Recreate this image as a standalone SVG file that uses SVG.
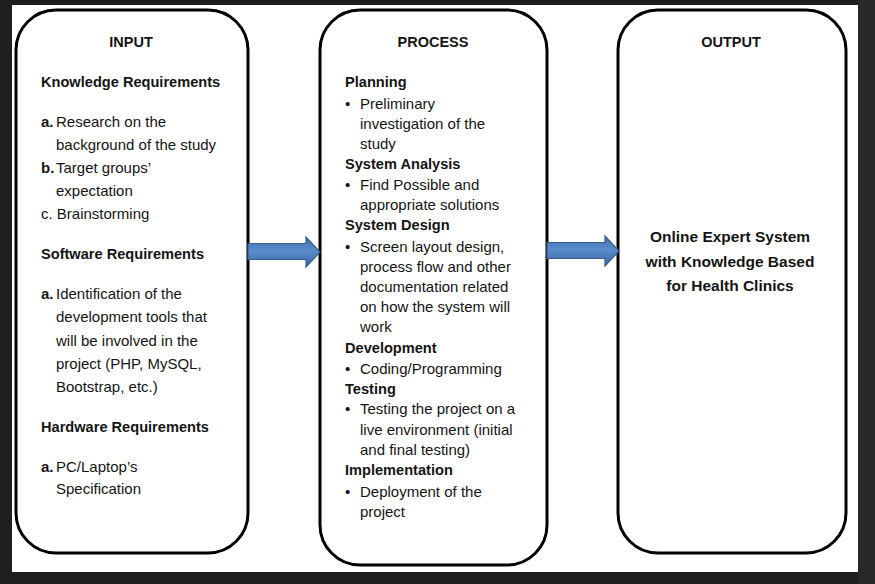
<svg xmlns="http://www.w3.org/2000/svg" width="875" height="584" viewBox="0 0 875 584">
<style>
text{font-family:"Liberation Sans",Arial,sans-serif;fill:#141414}
.t{font-size:14.5px;font-weight:bold}
.h{font-size:14.6px;font-weight:bold}
.r{font-size:15px}
.o{font-size:15.5px;font-weight:bold}
.box{fill:#fff;stroke:#000;stroke-width:3}
.arr{fill:url(#ag);stroke:#385d8a;stroke-width:1.2}
</style>
<defs>
<linearGradient id="ag" x1="0" y1="0" x2="0" y2="1">
<stop offset="0" stop-color="#3f6fae"/>
<stop offset="0.45" stop-color="#5a8ccc"/>
<stop offset="1" stop-color="#3a67a3"/>
</linearGradient>
</defs>
<rect width="875" height="584" fill="#1f1f1f"/>
<rect x="858" y="0" width="17" height="584" fill="#282828"/>
<rect x="12" y="5" width="846" height="567" fill="#fff"/>

<g id="input">
<rect class="box" x="16" y="10" width="232" height="543" rx="40"/>
<text class="t" x="131" y="47" text-anchor="middle">INPUT</text>
<text class="h" x="41" y="87">Knowledge Requirements</text>
<text class="r" x="41" y="127"><tspan font-weight="bold">a.</tspan></text>
<text class="r" x="56" y="127">Research on the</text>
<text class="r" x="56" y="150">background of the study</text>
<text class="r" x="41" y="173"><tspan font-weight="bold">b.</tspan></text>
<text class="r" x="56" y="173">Target groups’</text>
<text class="r" x="56" y="196">expectation</text>
<text class="r" x="41" y="219">c. Brainstorming</text>
<text class="h" x="41" y="259">Software Requirements</text>
<text class="r" x="41" y="299"><tspan font-weight="bold">a.</tspan></text>
<text class="r" x="56" y="299">Identification of the</text>
<text class="r" x="56" y="322">development tools that</text>
<text class="r" x="56" y="345.5">will be involved in the</text>
<text class="r" x="56" y="369">project (PHP, MySQL,</text>
<text class="r" x="56" y="392">Bootstrap, etc.)</text>
<text class="h" x="41" y="431.5">Hardware Requirements</text>
<text class="r" x="41" y="472"><tspan font-weight="bold">a.</tspan></text>
<text class="r" x="56" y="472">PC/Laptop’s</text>
<text class="r" x="56" y="494">Specification</text>
</g>

<g id="process">
<rect class="box" x="320" y="10" width="227" height="555" rx="40"/>
<text class="t" x="433" y="47" text-anchor="middle">PROCESS</text>
<text class="h" x="345" y="87">Planning</text>
<text class="r" x="345" y="109">•</text>
<text class="r" x="360" y="109">Preliminary</text>
<text class="r" x="360" y="129">investigation of the</text>
<text class="r" x="360" y="149">study</text>
<text class="h" x="345" y="169">System Analysis</text>
<text class="r" x="345" y="190">•</text>
<text class="r" x="360" y="190">Find Possible and</text>
<text class="r" x="360" y="210">appropriate solutions</text>
<text class="h" x="345" y="230">System Design</text>
<text class="r" x="345" y="251.5">•</text>
<text class="r" x="360" y="251.5">Screen layout design,</text>
<text class="r" x="360" y="271.5">process flow and other</text>
<text class="r" x="360" y="291.5">documentation related</text>
<text class="r" x="360" y="311.5">on how the system will</text>
<text class="r" x="360" y="332">work</text>
<text class="h" x="345" y="352.5">Development</text>
<text class="r" x="345" y="374">•</text>
<text class="r" x="360" y="374">Coding/Programming</text>
<text class="h" x="345" y="394">Testing</text>
<text class="r" x="345" y="414">•</text>
<text class="r" x="360" y="414">Testing the project on a</text>
<text class="r" x="360" y="435">live environment (initial</text>
<text class="r" x="360" y="455">and final testing)</text>
<text class="h" x="345" y="475">Implementation</text>
<text class="r" x="345" y="496.5">•</text>
<text class="r" x="360" y="496.5">Deployment of the</text>
<text class="r" x="360" y="516.5">project</text>
</g>

<g id="output">
<rect class="box" x="618" y="10" width="228" height="543" rx="40"/>
<text class="t" x="731" y="47" text-anchor="middle">OUTPUT</text>
<text class="o" x="730" y="242" text-anchor="middle">Online Expert System</text>
<text class="o" x="730" y="266.5" text-anchor="middle">with Knowledge Based</text>
<text class="o" x="730" y="291" text-anchor="middle">for Health Clinics</text>
</g>

<g id="connectors">
<path class="arr" d="M248,243.5 H306 V237 L320,252 L306,267 V259.5 H248 Z"/>
<path class="arr" d="M547,242.5 H605 V236 L619,251 L605,266 V258.5 H547 Z"/>
</g>
</svg>
